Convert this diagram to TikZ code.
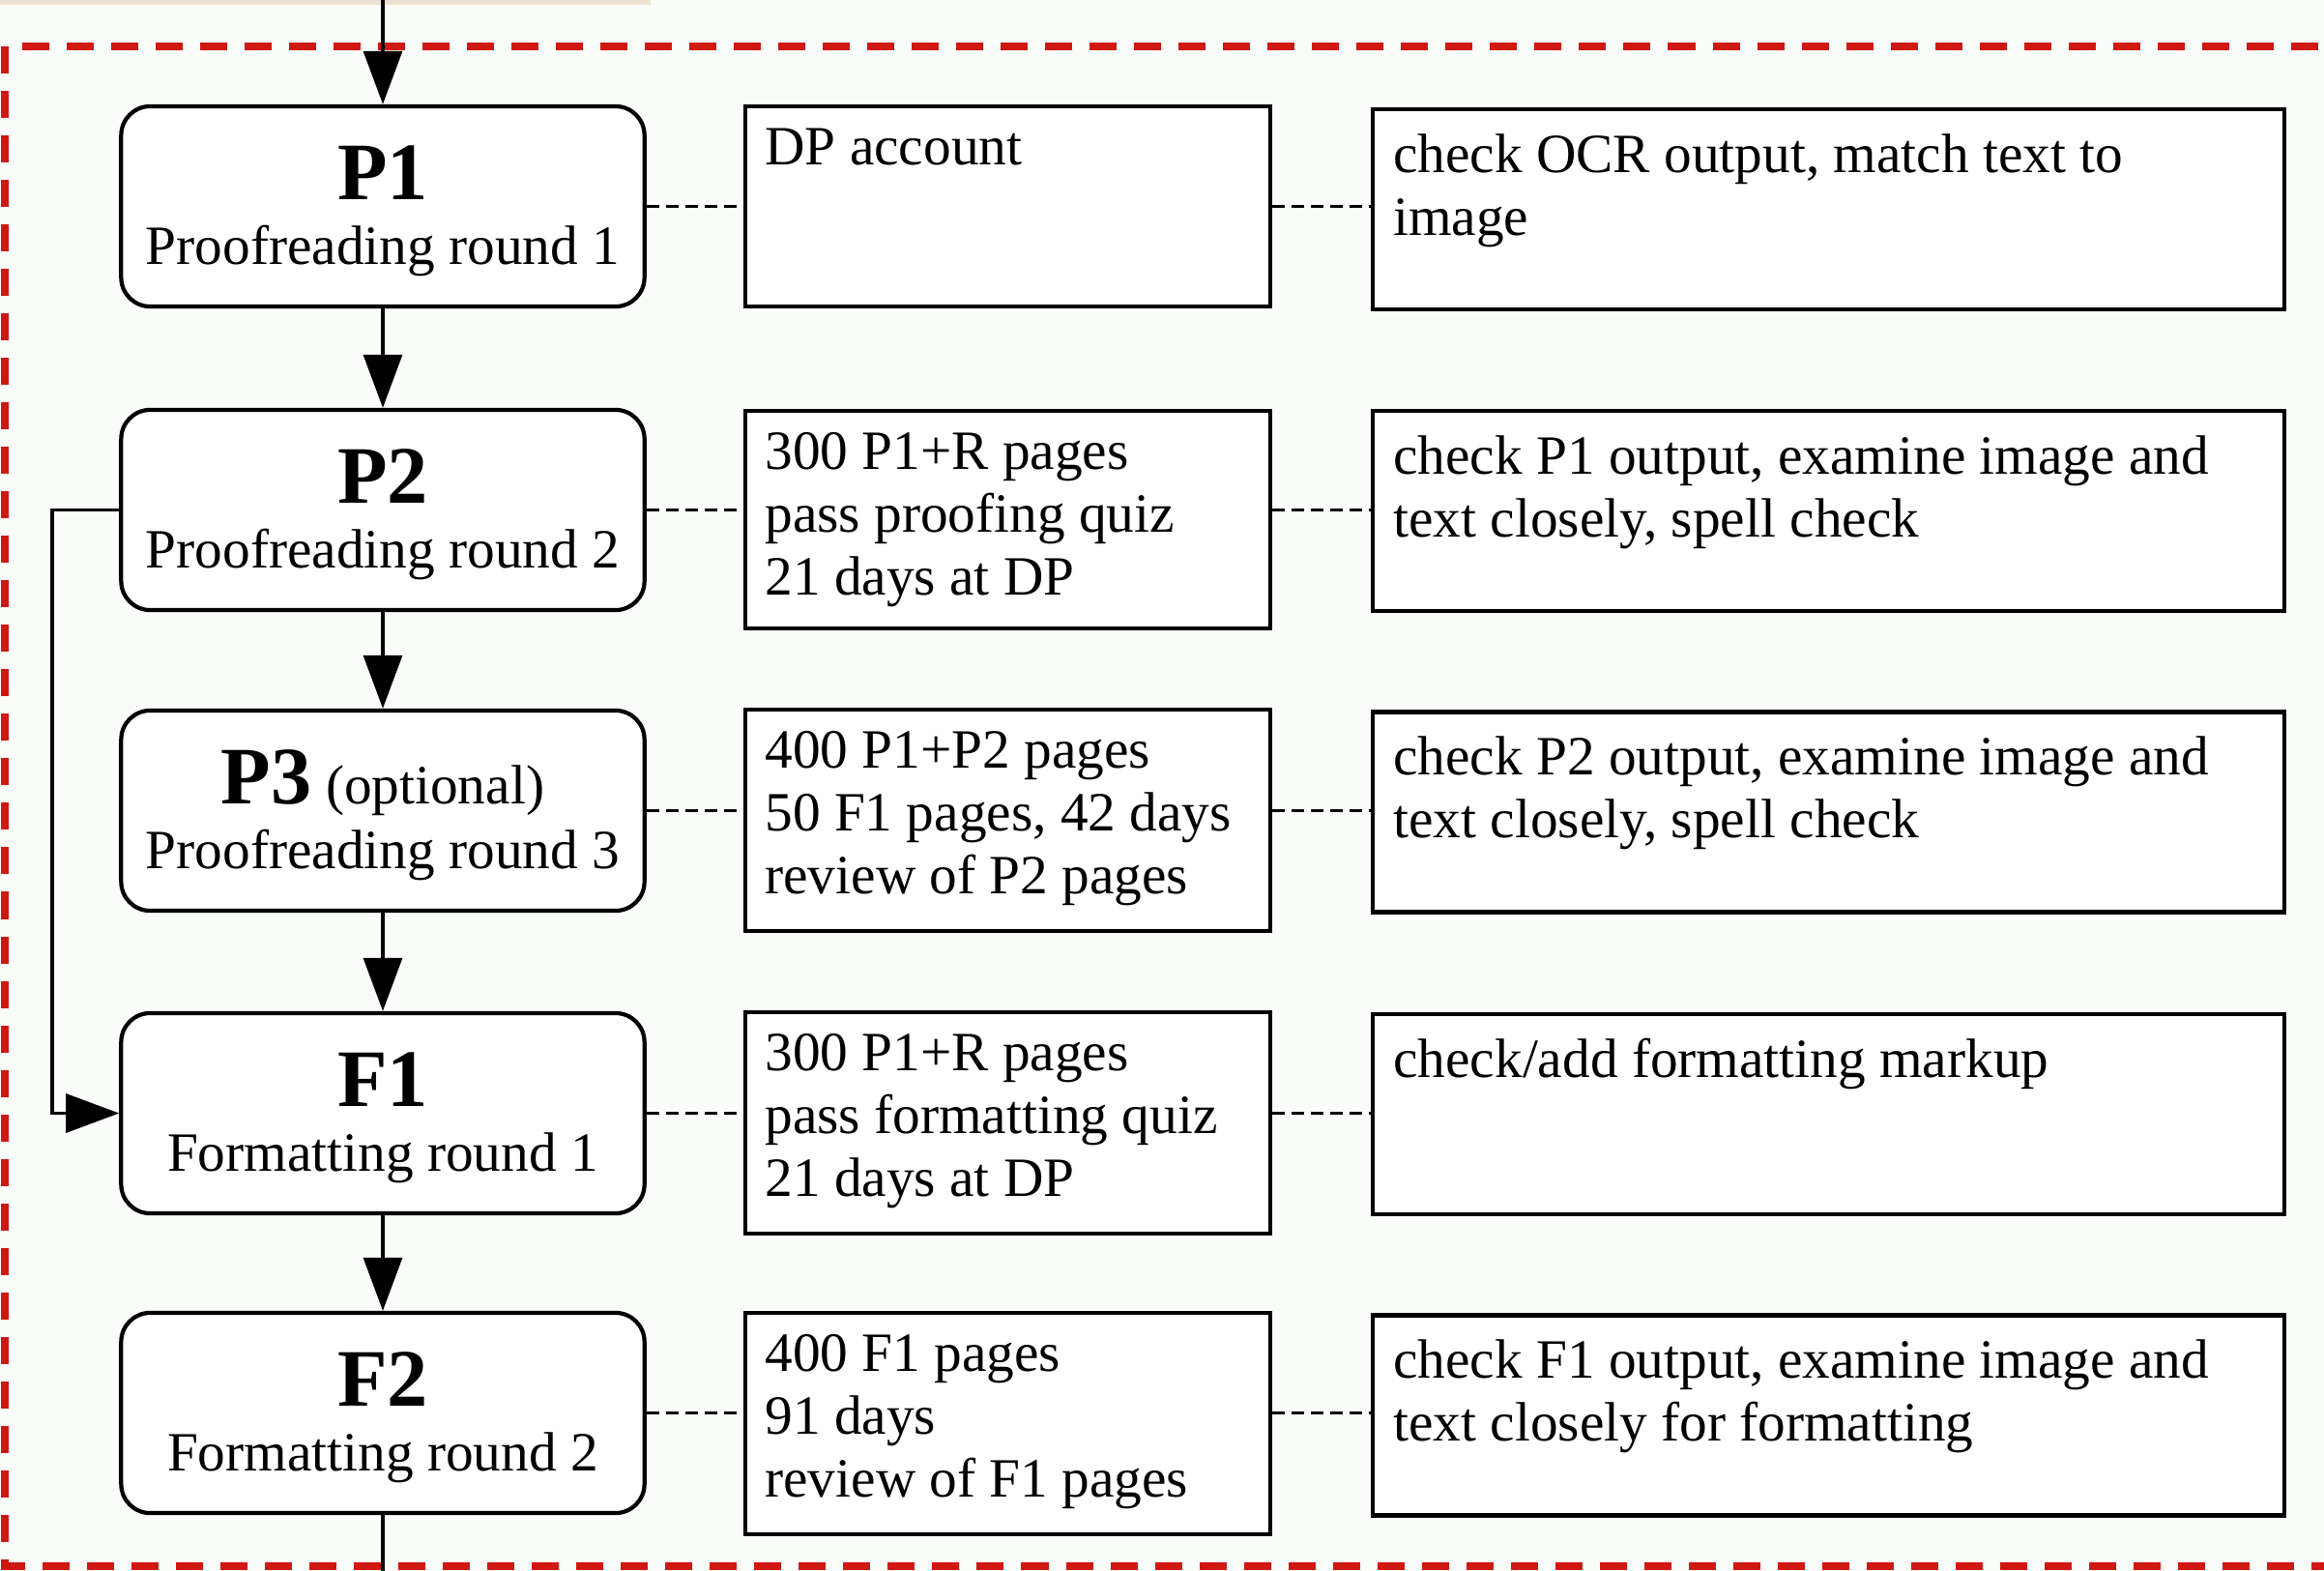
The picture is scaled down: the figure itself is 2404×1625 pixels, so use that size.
\documentclass[tikz,border=0pt]{standalone}
\usepackage{fontspec}
\setmainfont{Liberation Serif}
\usetikzlibrary{arrows.meta}
\definecolor{dpred}{RGB}{208,24,18}
\definecolor{bgc}{RGB}{250,252,250}
\definecolor{beige}{RGB}{236,226,208}
\begin{document}
\begin{tikzpicture}[x=0.01cm,y=-0.01cm,
  bodyfont/.style={font=\fontsize{16.3}{18.5}\selectfont},
  lbox/.style={draw=black, line width=1.2pt, rounded corners=0.3cm, fill=white,
    minimum width=5.41cm, minimum height=2.07cm, inner sep=0pt},
  mbox/.style={draw=black, line width=1.2pt, fill=white,
    minimum width=5.43cm, inner sep=0pt},
  rbox/.style={draw=black, line width=1.2pt, fill=white,
    minimum width=9.43cm, minimum height=2.07cm, inner sep=0pt},
  boxtext/.style={bodyfont, anchor=north west, align=left, inner sep=0pt},
  bigtitle/.style={font=\fontsize{24}{26}\selectfont\bfseries, anchor=base, inner sep=0pt},
  subtitle/.style={bodyfont, anchor=base, inner sep=0pt},
  flow/.style={line width=0.9pt, -{Triangle[length=0.55cm,width=0.4cm]}},
  link/.style={line width=0.9pt, dash pattern=on 0.13cm off 0.07cm},
  frame/.style={draw=dpred, line width=2.1pt, dash pattern=on 0.28cm off 0.18cm}
]
\fill[bgc] (0,0) rectangle (2404,1625);
\useasboundingbox (0,0) rectangle (2404,1625);
\fill[beige] (0,0) rectangle (673,5);
\begin{scope}
\clip (0,0) rectangle (2404,1625);
\draw[frame] (5,48) rectangle (2460,1620);
\end{scope}

% left column
\node[lbox] (P1) at (396,213.5) {};
\node[lbox] (P2) at (396,527.5) {};
\node[lbox] (P3) at (396,838.5) {};
\node[lbox] (F1) at (396,1151.5) {};
\node[lbox] (F2) at (396,1461.5) {};

\node[bigtitle] (P1t) at ([yshift=0.07cm]P1.center) {P1};
\node[subtitle] (P1s) at ([yshift=-0.595cm]P1.center) {Proofreading round 1};
\node[bigtitle] (P2t) at ([yshift=0.07cm]P2.center) {P2};
\node[subtitle] (P2s) at ([yshift=-0.595cm]P2.center) {Proofreading round 2};
\node[anchor=base, inner sep=0pt, bodyfont] (P3t) at ([yshift=0.07cm]P3.center) {{\fontsize{24}{26}\selectfont\bfseries P3} (optional)};
\node[subtitle] (P3s) at ([yshift=-0.595cm]P3.center) {Proofreading round 3};
\node[bigtitle] (F1t) at ([yshift=0.07cm]F1.center) {F1};
\node[subtitle] (F1s) at ([yshift=-0.595cm]F1.center) {Formatting round 1};
\node[bigtitle] (F2t) at ([yshift=0.07cm]F2.center) {F2};
\node[subtitle] (F2s) at ([yshift=-0.595cm]F2.center) {Formatting round 2};

% middle column
\node[mbox, minimum height=2.07cm] (M1) at (1042.5,213.5) {};
\node[mbox, minimum height=2.25cm] (M2) at (1042.5,537.5) {};
\node[mbox, minimum height=2.29cm] (M3) at (1042.5,848.5) {};
\node[mbox, minimum height=2.29cm] (M4) at (1042.5,1161.5) {};
\node[mbox, minimum height=2.29cm] (M5) at (1042.5,1472.5) {};

\node[boxtext] at ([shift={(22,24)}]M1.north west) {DP account};
\node[boxtext] at ([shift={(22,24)}]M2.north west) {300 P1+R pages\\pass proofing quiz\\21 days at DP};
\node[boxtext] at ([shift={(22,24)}]M3.north west) {400 P1+P2 pages\\50 F1 pages, 42 days\\review of P2 pages};
\node[boxtext] at ([shift={(22,24)}]M4.north west) {300 P1+R pages\\pass formatting quiz\\21 days at DP};
\node[boxtext] at ([shift={(22,24)}]M5.north west) {400 F1 pages\\91 days\\review of F1 pages};

% right column
\node[rbox] (R1) at (1891.5,216.5) {};
\node[rbox] (R2) at (1891.5,528.5) {};
\node[rbox] (R3) at (1891.5,840) {};
\node[rbox] (R4) at (1891.5,1152.5) {};
\node[rbox] (R5) at (1891.5,1464) {};

\node[boxtext] at ([shift={(23,27)}]R1.north west) {check OCR output, match text to\\image};
\node[boxtext] at ([shift={(23,27)}]R2.north west) {check P1 output, examine image and\\text closely, spell check};
\node[boxtext] at ([shift={(23,27)}]R3.north west) {check P2 output, examine image and\\text closely, spell check};
\node[boxtext] at ([shift={(23,27)}]R4.north west) {check/add formatting markup};
\node[boxtext] at ([shift={(23,27)}]R5.north west) {check F1 output, examine image and\\text closely for formatting};

% dashed links
\foreach \a/\m/\r in {P1/M1/R1, P2/M2/R2, P3/M3/R3, F1/M4/R4, F2/M5/R5}{
  \draw[link] (\a.east) -- (\a.east -| \m.west);
  \draw[link] (\a.east -| \m.east) -- (\a.east -| \r.west);
}

% flow arrows
\coordinate (topin) at (396,0);
\coordinate (botout) at (396,1625);
\coordinate (loopx) at (54,0);
\draw[flow] (topin) -- (P1.north);
\draw[flow] (P1.south) -- (P2.north);
\draw[flow] (P2.south) -- (P3.north);
\draw[flow] (P3.south) -- (F1.north);
\draw[flow] (F1.south) -- (F2.north);
\draw[line width=0.9pt] (F2.south) -- (botout);
\draw[flow] (P2.west) -- (P2.west -| loopx) |- (F1.west);
\end{tikzpicture}
\end{document}
